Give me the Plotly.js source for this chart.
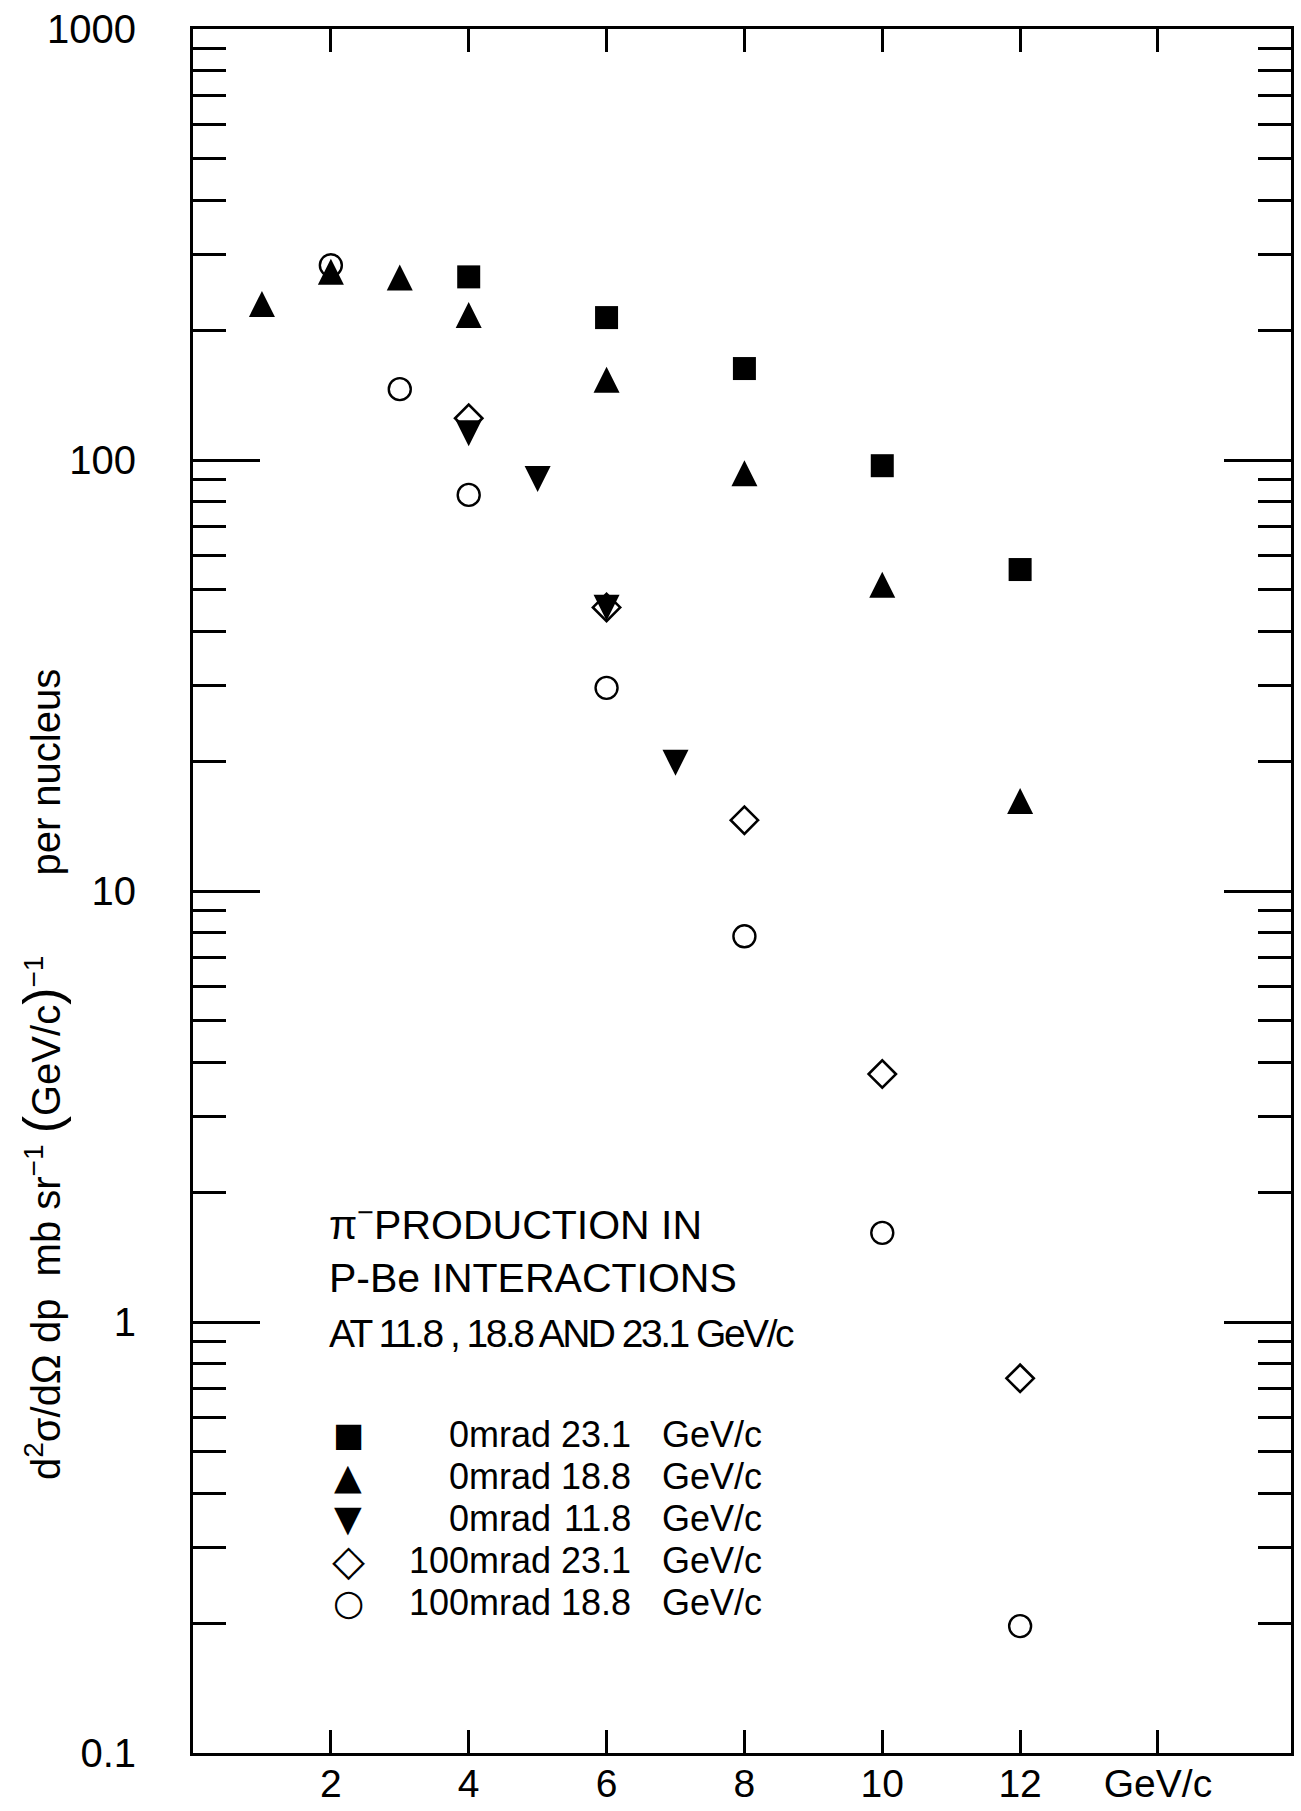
<!DOCTYPE html>
<html>
<head>
<meta charset="utf-8">
<script src="https://cdn.plot.ly/plotly-3.0.1.min.js"></script>
<style>html,body{margin:0;padding:0;background:#fff;}</style>
</head>
<body>
<div id="chart" style="width:1301px;height:1811px;"></div>
<script>
// ---- axis ticks ----
const momentumTicks = [2, 4, 6, 8, 10, 12, 14];
const momentumTickText = ['2', '4', '6', '8', '10', '12', 'GeV/c'];
const crossSectionTicks = [0.1, 1, 10, 100, 1000];
const crossSectionTickText = ['0.1', '1', '10', '100', '1000'];

// ---- data (momentum in GeV/c, cross-section per nucleus) ----
const sq_x = [4, 6, 8, 10, 12];                 // 0 mrad 23.1 GeV/c
const sq_y = [266, 214, 163, 97, 55.7];
const tu_x = [1, 2, 3, 4, 6, 8, 10, 12];          // 0 mrad 18.8 GeV/c
const tu_y = [225, 267, 259, 212, 150, 91, 50.2, 15.8];
const td_x = [4, 5, 6, 7];                        // 0 mrad 11.8 GeV/c
const td_y = [118, 92.5, 46.5, 20.3];
const di_x = [4, 6, 8, 10, 12];                   // 100 mrad 23.1 GeV/c
const di_y = [125, 45.5, 14.6, 3.76, 0.74];
const ci_x = [2, 3, 4, 6, 8, 10, 12];             // 100 mrad 18.8 GeV/c
const ci_y = [283, 146, 83, 29.6, 7.85, 1.61, 0.197];

// ---- texts ----
const legendKeys = ['\u25A0', '\u25B2', '\u25BC', '\u25C7', '\u25CB'];
const legendAngle = ['0mrad', '0mrad', '0mrad', '100mrad', '100mrad'];
const legendMomentum = ['23.1', '18.8', '11.8', '23.1', '18.8'];
const legendUnit = 'GeV/c';
const infoLines = ['\u03C0<sup>\u2212</sup>PRODUCTION IN', 'P-Be INTERACTIONS', 'AT 11.8 , 18.8 AND 23.1 GeV/c'];
const yTitleParts = ['d<sup>2</sup>\u03C3/d\u03A9 dp  mb sr<sup>\u22121</sup> ', 'GeV/c', '<sup>\u22121</sup>\u2003\u2003per nucleus'];

// ---- styling ----
const SANS = 'Liberation Sans, Arial, sans-serif';
const INK = '#000';

// layout geometry (pixels)
const W = 1301, H = 1811;
const M = {l: 193, r: 10, t: 29, b: 58};
const PW = W - M.l - M.r, PH = H - M.t - M.b;
const px2x = px => (px - M.l) / PW;
const py2y = py => (H - M.b - py) / PH;

const triSize = 26;
const triStandoff = triSize / 2 * 4 / 3;

const traces = [
  {x: sq_x, y: sq_y, name: legendAngle[0] + ' ' + legendMomentum[0] + ' ' + legendUnit, type: 'scatter', mode: 'markers',
   marker: {symbol: 'square', size: 23, color: INK, line: {width: 0}}},
  {x: tu_x, y: tu_y, name: legendAngle[1] + ' ' + legendMomentum[1] + ' ' + legendUnit, type: 'scatter', mode: 'markers',
   marker: {symbol: 'arrow-down', angle: 180, standoff: triStandoff, size: triSize, color: INK, line: {width: 0}}},
  {x: td_x, y: td_y, name: legendAngle[2] + ' ' + legendMomentum[2] + ' ' + legendUnit, type: 'scatter', mode: 'markers',
   marker: {symbol: 'arrow-down', angle: 0, standoff: triStandoff, size: triSize, color: INK, line: {width: 0}}},
  {x: di_x, y: di_y, name: legendAngle[3] + ' ' + legendMomentum[3] + ' ' + legendUnit, type: 'scatter', mode: 'markers',
   marker: {symbol: 'diamond-open', size: 21, color: INK, line: {width: 2.6, color: INK}}},
  {x: ci_x, y: ci_y, name: legendAngle[4] + ' ' + legendMomentum[4] + ' ' + legendUnit, type: 'scatter', mode: 'markers',
   marker: {symbol: 'circle-open', size: 22, color: INK, line: {width: 2.4, color: INK}}}
];

// minor log ticks 2..9 in every decade
const minorVals = [];
for (let d = 0.1; d < 1000; d *= 10) {
  for (let m = 2; m <= 9; m++) minorVals.push(+(d * m).toPrecision(3));
}

const annotations = [];
// information block
const infoTop = 1222, infoGap = 55.5, infoLeft = 327;
infoLines.forEach((t, i) => {
  const txt = i === 2 ? '<span style="letter-spacing:-2.5px">' + t + '</span>' : t;
  annotations.push({
    text: txt, xref: 'paper', yref: 'paper', x: px2x(infoLeft), y: py2y(infoTop + i * infoGap),
    xanchor: 'left', yanchor: 'middle', showarrow: false,
    font: {family: SANS, size: i === 2 ? 39 : 41, color: INK}
  });
});
// legend block
const legTop = 1434, legGap = 42;
const keySizes = [33, 36, 36, 43, 36];
legendKeys.forEach((k, i) => {
  const y = py2y(legTop + i * legGap);
  annotations.push({text: k, xref: 'paper', yref: 'paper', x: px2x(348), y: y, xanchor: 'center', yanchor: 'middle',
    showarrow: false, font: {family: 'DejaVu Sans, sans-serif', size: keySizes[i], color: INK}});
  annotations.push({text: legendAngle[i], xref: 'paper', yref: 'paper', x: px2x(553), y: y, xanchor: 'right', yanchor: 'middle',
    showarrow: false, font: {family: SANS, size: 36, color: INK}});
  annotations.push({text: legendMomentum[i], xref: 'paper', yref: 'paper', x: px2x(633), y: y, xanchor: 'right', yanchor: 'middle',
    showarrow: false, font: {family: SANS, size: 36, color: INK}});
  annotations.push({text: legendUnit, xref: 'paper', yref: 'paper', x: px2x(660), y: y, xanchor: 'left', yanchor: 'middle',
    showarrow: false, font: {family: SANS, size: 36, color: INK}});
});
// y axis title
const yTitle = yTitleParts[0] + '<span style="font-size:52px">(</span>' + yTitleParts[1] +
  '<span style="font-size:52px">)</span>' + yTitleParts[2];
annotations.push({text: yTitle, xref: 'paper', yref: 'paper', x: px2x(42), y: py2y(1075), xanchor: 'center', yanchor: 'middle',
  textangle: -90, showarrow: false, font: {family: SANS, size: 40, color: INK}});

const layout = {
  width: W, height: H,
  margin: M,
  paper_bgcolor: '#fff', plot_bgcolor: '#fff',
  showlegend: false,
  xaxis: {
    range: [0, 15.93], tickmode: 'array', tickvals: momentumTicks, ticktext: momentumTickText,
    ticks: 'inside', ticklen: 23, tickwidth: 3, tickcolor: INK,
    showline: true, linewidth: 3, linecolor: INK, mirror: 'ticks',
    showgrid: false, zeroline: false, ticklabelstandoff: -6,
    tickfont: {family: SANS, size: 39, color: INK}
  },
  yaxis: {
    type: 'log', range: [-1, 3], tickmode: 'array', tickvals: crossSectionTicks, ticktext: crossSectionTickText,
    ticks: 'inside', ticklen: 67, tickwidth: 3, tickcolor: INK,
    minor: {tickmode: 'array', tickvals: minorVals, ticks: 'inside', ticklen: 33, tickwidth: 3, tickcolor: INK, showgrid: false},
    showline: true, linewidth: 3, linecolor: INK, mirror: 'ticks',
    showgrid: false, zeroline: false, ticklabelstandoff: 46,
    tickfont: {family: SANS, size: 40, color: INK}
  },
  annotations: annotations
};

Plotly.newPlot('chart', traces, layout, {staticPlot: true, displayModeBar: false});
</script>
</body>
</html>
